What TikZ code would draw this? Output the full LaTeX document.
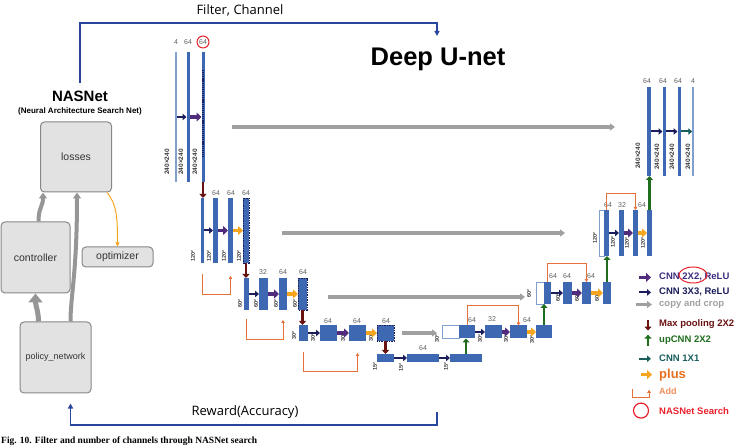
\documentclass[tikz,border=0pt]{standalone}
\usepackage{fontspec}
\setmainfont{Liberation Sans}
\newfontfamily\opensans{Open Sans}
\newfontfamily\capserif{Liberation Serif}
\usetikzlibrary{arrows.meta}

\definecolor{barblue}{RGB}{62,104,178}
\definecolor{lightbar}{RGB}{128,160,208}
\definecolor{cnnnavy}{RGB}{28,30,92}
\definecolor{cnnpurple}{RGB}{82,44,124}
\definecolor{lgpurple}{RGB}{60,44,128}
\definecolor{plusorange}{RGB}{246,166,30}
\definecolor{pluscol}{RGB}{230,112,30}
\definecolor{poolred}{RGB}{105,18,18}
\definecolor{upgreen}{RGB}{30,110,30}
\definecolor{oneteal}{RGB}{26,94,94}
\definecolor{copygray}{RGB}{160,160,160}
\definecolor{addorange}{RGB}{228,112,58}
\definecolor{addtext}{RGB}{240,140,90}
\definecolor{searchred}{RGB}{232,32,42}
\definecolor{linkblue}{RGB}{40,70,155}
\definecolor{boxgray}{RGB}{226,226,226}
\definecolor{edgegray}{RGB}{135,135,135}
\definecolor{flowgray}{RGB}{150,150,150}
\definecolor{numgray}{RGB}{95,95,95}
\definecolor{dimgray}{RGB}{60,60,60}

\tikzset{
  blk/.style={fill=barblue, inner sep=0pt, outer sep=0pt},
  blkthin/.style={fill=lightbar, inner sep=0pt, outer sep=0pt},
  blkw/.style={fill=white, draw=lightbar, line width=0.8pt, inner sep=0pt, outer sep=0pt},
  num/.style={text=numgray, font=\fontsize{7}{7}\selectfont, inner sep=0.5pt},
  dimlbl/.style={text=dimgray, font=\bfseries\fontsize{5.5}{5.5}\selectfont, rotate=90, inner sep=0pt},
  dimbig/.style={dimlbl, font=\bfseries\fontsize{6.5}{6.5}\selectfont},
  dotcol/.style={draw=cnnnavy, line width=2.6pt, dash pattern=on 1.2pt off 0.9pt},
  dotbox/.style={draw=cnnnavy, line width=0.8pt, dash pattern=on 1.5pt off 1pt},
  cnnthree/.style={draw=cnnnavy, line width=2pt, -{Triangle[length=4pt,width=6.5pt]}},
  cnntwo/.style={draw=cnnpurple, line width=3.5pt, -{Triangle[length=5pt,width=9pt]}},
  cnnone/.style={draw=oneteal, line width=2pt, -{Triangle[length=4pt,width=6.5pt]}},
  plusarr/.style={draw=plusorange, line width=3.5pt, -{Triangle[length=5pt,width=9pt]}},
  poolarr/.style={draw=poolred, line width=2.5pt, -{Triangle[length=4pt,width=7pt]}},
  uparr/.style={draw=upgreen, line width=2.5pt, -{Triangle[length=4pt,width=7pt]}},
  copyarr/.style={draw=copygray, line width=3.5pt, -{Triangle[length=5pt,width=7pt]}},
  addarr/.style={draw=addorange, line width=1pt, -{Triangle[length=3pt,width=3.5pt]}},
  bluelink/.style={draw=linkblue, line width=1.5pt, -{Triangle[length=5pt,width=5pt]}},
  flowarr/.style={draw=flowgray, line width=4pt, -{Triangle[length=6pt,width=8pt]}},
  optarr/.style={draw=plusorange, line width=1pt, -{Triangle[length=4pt,width=4pt]}},
  nasbox/.style={draw=edgegray, fill=boxgray, rounded corners=4pt, line width=1pt,
    text=black!80, font=\fontsize{10.5}{10.5}\selectfont},
  lgd/.style={anchor=base west, inner sep=0pt, font=\bfseries\fontsize{9.5}{9.5}\selectfont}
}

\begin{document}
\begin{tikzpicture}[x=1pt, y=-1pt]
\useasboundingbox (0,0) rectangle (742,446);
\clip (0,0) rectangle (742,446);

% titles
\node[anchor=base, font=\opensans\fontsize{13}{13}\selectfont] (fc) at (240,15) {Filter, Channel};
\node[anchor=base, font=\bfseries\fontsize{25.5}{25.5}\selectfont] (unet) at (438,66) {Deep U-net};
\node[anchor=base, font=\bfseries\fontsize{15}{15}\selectfont] (nas) at (80,102) {NASNet};
\node[anchor=base, font=\bfseries\fontsize{8}{8}\selectfont] (nasfull) at (80,114) {(Neural Architecture Search Net)};
\node[anchor=base, font=\opensans\fontsize{13}{13}\selectfont] (rw) at (245,415) {Reward(Accuracy)};
\node[anchor=base west, inner sep=0pt, font=\capserif\bfseries\fontsize{9.5}{9.5}\selectfont] (cap) at (1,443.5)
  {Fig. 10. Filter and number of channels through NASNet search};

% NASNet boxes
\node[nasbox, minimum width=71pt, minimum height=70pt] (ls) at (76,157) {losses};
\node[nasbox, minimum width=69pt, minimum height=71pt] (ct) at (35.5,257.5) {controller};
\node[nasbox, minimum width=71pt, minimum height=20pt] (op) at (117.5,257) {optimizer};
\node[nasbox, minimum width=71pt, minimum height=71pt, font=\fontsize{9}{9}\selectfont] (pn) at (55.5,357.5) {policy\_network};

\draw[flowarr] ([xshift=3pt]ct.north) .. controls +(0,-14) and +(0,14) .. ([xshift=-33pt]ls.south);
\draw[flowarr] ([xshift=15pt]pn.north) .. controls +(0,-25) and +(0,80) .. ([xshift=1pt]ls.south);
\draw[flowarr, line width=5pt, -{Triangle[length=9pt,width=14pt]}] ([xshift=-17pt]pn.north) .. controls +(0,-10) and +(0,12) .. (ct.south);
\draw[optarr] ([xshift=-5pt]ls.south east) .. controls +(10,12) and +(0,-28) .. (op.north);

% search and reward links
\coordinate (ftop) at (240,23);
\coordinate (unettop) at (437,36);
\coordinate (rwtop) at (437,412);
\coordinate (rwbot) at (245,425);
\draw[bluelink] ([yshift=5pt]nas.north) |- (ftop) -| (unettop);
\draw[bluelink, shorten >=10pt] (rwtop) |- (rwbot) -| ([xshift=15pt]pn.south);

% encoder 240x240
\node[blkthin, minimum width=2pt, minimum height=130pt] (e1a) at (176,117) {};
\node[blk, minimum width=3pt, minimum height=130pt] (e1b) at (188,117) {};
\node[blk, minimum width=3pt, minimum height=130pt] (e1c) at (203,117) {};
\draw[dotcol] ([yshift=-18pt]e1c.north) -- ([yshift=25pt]e1c.south);
\node[num] (n1a) at (176,42) {4};
\node[num] (n1b) at (188,42) {64};
\node[num, draw=searchred, circle, line width=1pt, inner sep=1pt] (n1c) at (203,42) {64};
\node[dimbig] (s1a) at (167,162) {240×240};
\node[dimbig] (s1b) at (181,162) {240×240};
\node[dimbig] (s1c) at (195,162) {240×240};
\draw[cnnthree] (e1a.east) -- (e1b.west);
\draw[cnntwo] (e1b.east) -- (e1c.west);

% encoder 120
\node[blk, minimum width=3pt, minimum height=65pt] (e2a) at (202,230.5) {};
\node[blk, minimum width=5pt, minimum height=65pt] (e2b) at (215.5,230.5) {};
\node[blk, minimum width=5pt, minimum height=65pt] (e2c) at (230.5,230.5) {};
\node[blk, minimum width=6pt, minimum height=65pt] (e2d) at (246,230.5) {};
\draw[dotbox] (e2d.north west) rectangle (e2d.south east);
\node[num] (n2b) at (216,193) {64};
\node[num] (n2c) at (231,193) {64};
\node[num] (n2d) at (246,193) {64};
\node[dimlbl] (s2a) at (193,256) {120²};
\node[dimlbl] (s2b) at (209,256) {120²};
\node[dimlbl] (s2c) at (224,256) {120²};
\node[dimlbl] (s2d) at (239,256) {120²};
\draw[cnnthree] (e2a.east) -- (e2b.west);
\draw[cnntwo] (e2b.east) -- (e2c.west);
\draw[plusarr] (e2c.east) -- (e2d.west);
\draw[poolarr] (e1c.south) -- (e1c.south |- e2a.north);
\draw[addarr] ([yshift=-11pt]e2a.south) -- ++(0,21) -| ([yshift=-13pt]e2c.south);

% encoder 60
\node[blk, minimum width=5pt, minimum height=32pt] (e3a) at (246.5,294) {};
\node[blk, minimum width=9pt, minimum height=32pt] (e3b) at (263.5,294) {};
\node[blk, minimum width=8pt, minimum height=32pt] (e3c) at (283,294) {};
\node[blk, minimum width=9pt, minimum height=32pt] (e3d) at (302.5,294) {};
\draw[dotbox] (e3d.north west) rectangle (e3d.south east);
\node[num] (n3b) at (263,272) {32};
\node[num] (n3c) at (283,272) {64};
\node[num] (n3d) at (303,272) {64};
\node[dimlbl] (s3a) at (240,304) {60²};
\node[dimlbl] (s3b) at (256,304) {60²};
\node[dimlbl] (s3c) at (276,304) {60²};
\node[dimlbl] (s3d) at (295,304) {60²};
\draw[cnnthree] (e3a.east) -- (e3b.west);
\draw[cnntwo] (e3b.east) -- (e3c.west);
\draw[plusarr] (e3c.east) -- (e3d.west);
\draw[poolarr] (e2d.south) -- (e2d.south |- e3a.north);
\draw[addarr] ([yshift=-9pt]e3a.south) -- ++(0,21) -| ([yshift=-10pt]e3c.south);

% encoder 30
\node[blk, minimum width=9pt, minimum height=16pt] (e4a) at (303.5,333) {};
\node[blk, minimum width=17pt, minimum height=16pt] (e4b) at (328.5,333) {};
\node[blk, minimum width=17pt, minimum height=16pt] (e4c) at (357.5,333) {};
\node[blk, minimum width=17pt, minimum height=16pt] (e4d) at (385.5,333) {};
\draw[dotbox] (e4d.north west) rectangle (e4d.south east);
\node[num] (n4b) at (328,321) {64};
\node[num] (n4c) at (357,321) {64};
\node[num] (n4d) at (386,321) {64};
\node[dimlbl] (s4a) at (294,336) {30²};
\node[dimlbl] (s4b) at (313,338) {30²};
\node[dimlbl] (s4c) at (343,338) {30²};
\node[dimlbl] (s4d) at (371,338) {30²};
\draw[cnnthree] (e4a.east) -- (e4b.west);
\draw[cnntwo] (e4b.east) -- (e4c.west);
\draw[plusarr] (e4c.east) -- (e4d.west);
\draw[poolarr] (e3d.south) -- (e3d.south |- e4a.north);
\draw[addarr] ([yshift=-11pt]e4a.south) -- ++(0,20) -| ([yshift=-12pt]e4c.south);

% bottom 15
\node[blk, minimum width=17pt, minimum height=8pt] (b5a) at (385.5,358) {};
\node[blk, minimum width=32pt, minimum height=8pt] (b5b) at (423,358) {};
\node[blk, minimum width=32pt, minimum height=8pt] (b5c) at (466,358) {};
\node[num] (n5b) at (423,348) {64};
\node[dimlbl] (s5a) at (375,367) {15²};
\node[dimlbl] (s5b) at (401,368) {15²};
\node[dimlbl] (s5c) at (446,367) {15²};
\draw[cnnthree] (b5a.east) -- (b5b.west);
\draw[cnnthree] (b5b.east) -- (b5c.west);
\draw[poolarr] (e4d.south) -- (e4d.south |- b5a.north);

% decoder 30
\node[blkw, minimum width=17pt, minimum height=13pt] (d4w) at (450.5,332) {};
\node[blk, minimum width=16pt, minimum height=13pt] (d4a) at (467,332) {};
\node[blk, minimum width=17pt, minimum height=13pt] (d4b) at (493.5,332) {};
\node[blk, minimum width=17pt, minimum height=13pt] (d4c) at (518.5,332) {};
\node[blk, minimum width=16pt, minimum height=13pt] (d4d) at (544,332) {};
\node[num] (m4a) at (472,320) {64};
\node[num] (m4b) at (492,319) {32};
\node[num] (m4c) at (527,320) {64};
\node[dimlbl] (t4w) at (437,339) {30²};
\node[dimlbl] (t4b) at (480,339) {30²};
\node[dimlbl] (t4c) at (506,339) {30²};
\node[dimlbl] (t4d) at (532,340) {30²};
\draw[cnnthree] (d4a.east) -- (d4b.west);
\draw[cnntwo] (d4b.east) -- (d4c.west);
\draw[plusarr] (d4c.east) -- (d4d.west);
\draw[uparr] (b5c.north) -- (b5c.north |- d4a.south);
\draw[addarr] (d4a.north) -- ++(0,-20) -| (d4c.north);

% decoder 60
\node[blkw, minimum width=8pt, minimum height=22pt] (d3w) at (540,293) {};
\node[blk, minimum width=7pt, minimum height=22pt] (d3a) at (547.5,293) {};
\node[blk, minimum width=9pt, minimum height=22pt] (d3b) at (567.5,293) {};
\node[blk, minimum width=9pt, minimum height=22pt] (d3c) at (586.5,293) {};
\node[blk, minimum width=8pt, minimum height=22pt] (d3d) at (607,293) {};
\node[num] (m3a) at (553,276) {64};
\node[num] (m3b) at (567,276) {64};
\node[num] (m3c) at (591,276) {64};
\node[dimlbl] (t3w) at (529,294) {60²};
\node[dimlbl] (t3b) at (558,298) {60²};
\node[dimlbl] (t3c) at (577,298) {60²};
\node[dimlbl] (t3d) at (597,298) {60²};
\draw[cnnthree] (d3a.east) -- (d3b.west);
\draw[cnntwo] (d3b.east) -- (d3c.west);
\draw[plusarr] (d3c.east) -- (d3d.west);
\draw[uparr] (d4d.north) -- (d4d.north |- d3a.south);
\draw[addarr] (d3a.north) -- ++(0,-18) -| (d3c.north);

% decoder 120
\node[blkw, minimum width=5pt, minimum height=46pt] (d2w) at (601.5,233) {};
\node[blk, minimum width=5pt, minimum height=46pt] (d2a) at (606.5,233) {};
\node[blk, minimum width=5pt, minimum height=46pt] (d2b) at (621.5,233) {};
\node[blk, minimum width=5pt, minimum height=46pt] (d2c) at (635.5,233) {};
\node[blk, minimum width=5pt, minimum height=46pt] (d2d) at (649.5,233) {};
\node[num] (m2a) at (608,205) {64};
\node[num] (m2b) at (622,205) {32};
\node[num] (m2c) at (642,205) {64};
\node[dimlbl] (t2w) at (595,238) {120²};
\node[dimlbl] (t2b) at (613,242) {120²};
\node[dimlbl] (t2c) at (627,243) {120²};
\node[dimlbl] (t2d) at (643,243) {120²};
\draw[cnnthree] (d2a.east) -- (d2b.west);
\draw[cnntwo] (d2b.east) -- (d2c.west);
\draw[plusarr] (d2c.east) -- (d2d.west);
\draw[uparr] (d3d.north) -- (d3d.north |- d2a.south);
\draw[addarr] (d2a.north) -- ++(0,-16) -| (d2c.north);

% decoder 240x240
\node[blk, minimum width=4pt, minimum height=89pt] (d1a) at (649,131.5) {};
\node[blk, minimum width=3pt, minimum height=89pt] (d1b) at (664,131.5) {};
\node[blk, minimum width=3pt, minimum height=89pt] (d1c) at (679,131.5) {};
\node[blkthin, minimum width=1.5pt, minimum height=89pt] (d1d) at (693,131.5) {};
\node[num] (m1a) at (647,81) {64};
\node[num] (m1b) at (663,81) {64};
\node[num] (m1c) at (678,81) {64};
\node[num] (m1d) at (693,81) {4};
\node[dimbig] (t1a) at (638,156) {240×240};
\node[dimbig] (t1b) at (657,157) {240×240};
\node[dimbig] (t1c) at (672,157) {240×240};
\node[dimbig] (t1d) at (688,157) {240×240};
\draw[cnnthree] (d1a.east) -- (d1b.west);
\draw[cnnthree] (d1b.east) -- (d1c.west);
\draw[cnnone] (d1c.east) -- (d1d.west);
\draw[uparr] (d2d.north) -- (d2d.north |- d1a.south);

% copy and crop
\coordinate (cp1s) at (232,127);
\coordinate (cp1e) at (615,127);
\coordinate (cp2s) at (282,233);
\coordinate (cp2e) at (565,233);
\coordinate (cp3s) at (328,297);
\coordinate (cp3e) at (525,297);
\coordinate (cp4s) at (402,333);
\coordinate (cp4e) at (437,333);
\draw[copyarr] (cp1s) -- (cp1e);
\draw[copyarr] (cp2s) -- (cp2e);
\draw[copyarr] (cp3s) -- (cp3e);
\draw[copyarr] (cp4s) -- (cp4e);

% legend
\node[lgd, text=lgpurple] (k1) at (659,280) {CNN 2X2, ReLU};
\node[lgd, text=cnnnavy] (k2) at (659,295) {CNN 3X3, ReLU};
\node[lgd, text=copygray] (k3) at (659,307) {copy and crop};
\node[lgd, text=poolred] (k4) at (659,327) {Max pooling 2X2};
\node[lgd, text=upgreen] (k5) at (659,343) {upCNN 2X2};
\node[lgd, text=oneteal] (k6) at (659,362) {CNN 1X1};
\node[lgd, text=pluscol, font=\bfseries\fontsize{13}{13}\selectfont] (k7) at (659,378) {plus};
\node[lgd, text=addtext, font=\bfseries\fontsize{9}{9}\selectfont] (k8) at (659,395) {Add};
\node[lgd, text=searchred] (k9) at (659,414) {NASNet Search};
\draw[searchred, line width=1pt] (693,275) ellipse [x radius=14pt, y radius=8pt];
\draw[cnntwo] ([xshift=-20pt]k1.west) -- ([xshift=-8pt]k1.west);
\draw[cnnthree] ([xshift=-20pt]k2.west) -- ([xshift=-8pt]k2.west);
\draw[copyarr, line width=2.5pt] ([xshift=-23pt]k3.west) -- ([xshift=-7pt]k3.west);
\draw[poolarr] ([xshift=-11pt,yshift=5pt]k4.west) -- ([xshift=-11pt,yshift=-6pt]k4.west);
\draw[uparr] ([xshift=-11pt,yshift=-5pt]k5.west) -- ([xshift=-11pt,yshift=6pt]k5.west);
\draw[cnnone] ([xshift=-20pt]k6.west) -- ([xshift=-8pt]k6.west);
\draw[plusarr, line width=2.5pt] ([xshift=-18pt]k7.west) -- ([xshift=-7pt]k7.west);
\draw[addarr] ([xshift=-27pt,yshift=3pt]k8.west) -- ++(0,9) -| ([xshift=-10pt,yshift=2pt]k8.west);
\draw[searchred, line width=1.2pt] ([xshift=-18pt]k9.west) circle [radius=7.5pt];
\end{tikzpicture}
\end{document}
